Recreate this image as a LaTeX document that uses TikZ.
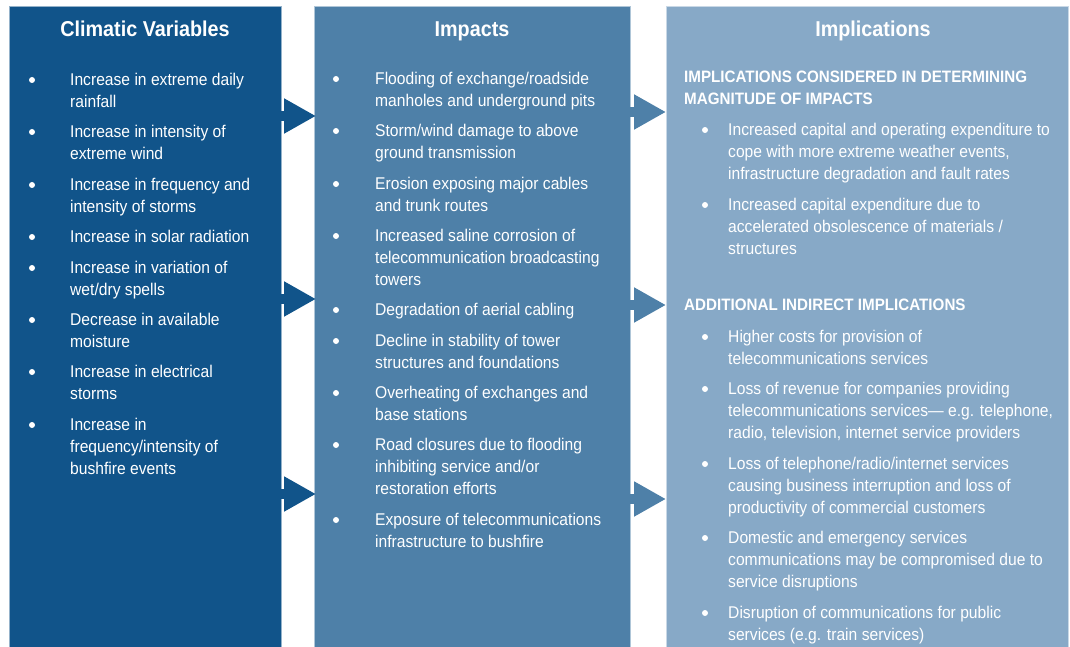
\documentclass[tikz,border=0pt]{standalone}
\usepackage{fontspec}
\setmainfont{Liberation Sans}[FakeStretch=0.92]
\usetikzlibrary{arrows.meta}
\definecolor{climblue}{RGB}{17,84,138}
\definecolor{impblue}{RGB}{78,128,168}
\definecolor{implblue}{RGB}{135,169,199}
\tikzset{
  colbox/.style={anchor=north west, inner sep=0pt, outer sep=0pt, line width=0.6pt, fill=#1, draw=#1!45!white},
  colhead/.style={anchor=base, text=white, font=\fontsize{21.5}{24}\selectfont\bfseries},
  subhead/.style={anchor=north west, inner sep=0pt, align=left, text=white, font=\fontsize{16.5}{22}\selectfont\bfseries},
  txt/.style={anchor=north west, inner sep=0pt, align=left, text=white, font=\fontsize{17}{22}\selectfont},
  bul/.style={circle, fill=white, inner sep=0pt, minimum size=6pt},
  flow/.style={line width=10pt, draw=#1, -{Triangle[length=32pt,width=33pt]}}
}
\begin{document}
\begin{tikzpicture}[x=1pt,y=-1pt]
\useasboundingbox (0,0) rectangle (1070,647);
% the three columns
\node[colbox=climblue, minimum width=272pt, minimum height=645pt] (clim) at (9,6) {};
\node[colbox=impblue, minimum width=316pt, minimum height=645pt] (imp) at (314,6) {};
\node[colbox=implblue, minimum width=402pt, minimum height=645pt] (impl) at (666,6) {};
\node[colhead] (climhead) at (145,37) {Climatic Variables};
\node[colhead] (imphead) at (472,37) {Impacts};
\node[colhead] (implhead) at (873,37) {Implications};

% climatic variables
\foreach \y [count=\i] in {80,132,185,237,268,320,372,425}
  \node[bul] (cb\i) at (32,\y) {};
\node[txt] (c1) at (70,73.3) {Increase in extreme daily\\rainfall};
\node[txt] (c2) at (70,125.3) {Increase in intensity of\\extreme wind};
\node[txt] (c3) at (70,178.3) {Increase in frequency and\\intensity of storms};
\node[txt] (c4) at (70,230.3) {Increase in solar radiation};
\node[txt] (c5) at (70,261.3) {Increase in variation of\\wet/dry spells};
\node[txt] (c6) at (70,313.3) {Decrease in available\\moisture};
\node[txt] (c7) at (70,365.3) {Increase in electrical\\storms};
\node[txt] (c8) at (70,418.3) {Increase in\\frequency/intensity of\\bushfire events};

% impacts
\foreach \y [count=\i] in {79,131,184,236,310,341,393,445,520}
  \node[bul] (ib\i) at (336,\y) {};
\node[txt] (i1) at (375,72.3) {Flooding of exchange/roadside\\manholes and underground pits};
\node[txt] (i2) at (375,124.3) {Storm/wind damage to above\\ground transmission};
\node[txt] (i3) at (375,177.3) {Erosion exposing major cables\\and trunk routes};
\node[txt] (i4) at (375,229.3) {Increased saline corrosion of\\telecommunication broadcasting\\towers};
\node[txt] (i5) at (375,303.3) {Degradation of aerial cabling};
\node[txt] (i6) at (375,334.3) {Decline in stability of tower\\structures and foundations};
\node[txt] (i7) at (375,386.3) {Overheating of exchanges and\\base stations};
\node[txt] (i8) at (375,438.3) {Road closures due to flooding\\inhibiting service and/or\\restoration efforts};
\node[txt] (i9) at (375,513.3) {Exposure of telecommunications\\infrastructure to bushfire};

% implications
\node[subhead] (h1) at (684,70.3) {IMPLICATIONS CONSIDERED IN DETERMINING\\MAGNITUDE OF IMPACTS};
\node[subhead] (h2) at (684,298.3) {ADDITIONAL INDIRECT IMPLICATIONS};
\foreach \y [count=\i] in {130,205,337,389,464,538,613}
  \node[bul] (pb\i) at (705,\y) {};
\node[txt] (p1) at (728,123.3) {Increased capital and operating expenditure to\\cope with more extreme weather events,\\infrastructure degradation and fault rates};
\node[txt] (p2) at (728,198.3) {Increased capital expenditure due to\\accelerated obsolescence of materials /\\structures};
\node[txt] (p3) at (728,330.3) {Higher costs for provision of\\telecommunications services};
\node[txt] (p4) at (728,382.3) {Loss of revenue for companies providing\\telecommunications services--- e.g. telephone,\\radio, television, internet service providers};
\node[txt] (p5) at (728,457.3) {Loss of telephone/radio/internet services\\causing business interruption and loss of\\productivity of commercial customers};
\node[txt] (p6) at (728,531.3) {Domestic and emergency services\\communications may be compromised due to\\service disruptions};
\node[txt] (p7) at (728,606.3) {Disruption of communications for public\\services (e.g. train services)};

% arrows between columns
\draw[flow=climblue] (clim.east |- 0,116) -- ([xshift=2pt]imp.west |- 0,116);
\draw[flow=climblue] (clim.east |- 0,299) -- ([xshift=2pt]imp.west |- 0,299);
\draw[flow=climblue] (clim.east |- 0,494) -- ([xshift=2pt]imp.west |- 0,494);
\draw[flow=impblue] (imp.east |- 0,112) -- (impl.west |- 0,112);
\draw[flow=impblue] (imp.east |- 0,305) -- (impl.west |- 0,305);
\draw[flow=impblue] (imp.east |- 0,499) -- (impl.west |- 0,499);
\end{tikzpicture}
\end{document}
